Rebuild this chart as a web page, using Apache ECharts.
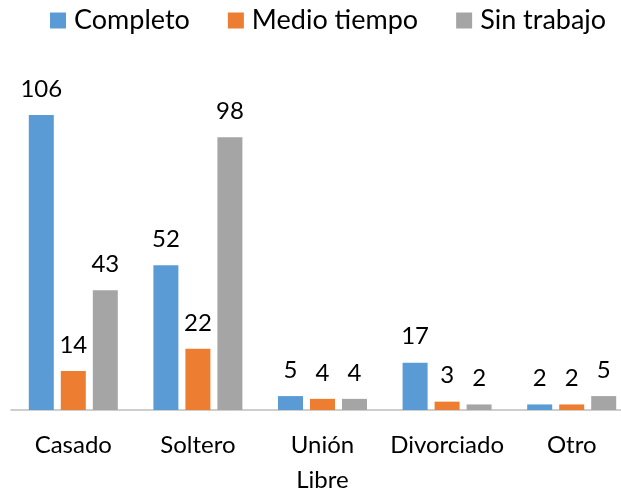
<!DOCTYPE html>
<html>
<head>
<meta charset="utf-8">
<script src="https://cdn.jsdelivr.net/npm/echarts@6/dist/echarts.min.js"></script>
<style>
  html, body { margin: 0; padding: 0; background: #fff; }
  #chart { width: 621px; height: 488px; }
</style>
</head>
<body>
<div id="chart"></div>
<script>
const categories = ['Casado', 'Soltero', 'Unión\nLibre', 'Divorciado', 'Otro'];
const completo = [106, 52, 5, 17, 2];
const medioTiempo = [14, 22, 4, 3, 2];
const sinTrabajo = [43, 98, 4, 2, 5];

const font = 'Lato, "Open Sans", sans-serif';

const chart = echarts.init(document.getElementById('chart'));

function barSeries(name, data, color) {
  return {
    name: name,
    type: 'bar',
    data: data,
    barWidth: 25,
    barGap: '28%',
    itemStyle: { color: color },
    label: {
      show: true,
      position: 'top',
      distance: 14,
      color: '#000',
      fontFamily: font,
      fontSize: 24
    }
  };
}

chart.setOption({
  animation: false,
  textStyle: { fontFamily: font },
  legend: {
    top: 2,
    left: 45,
    itemWidth: 16,
    itemHeight: 16,
    itemGap: 38,
    icon: 'rect',
    textStyle: { fontSize: 27, color: '#000', fontFamily: font, padding: [0, 0, 0, 3] }
  },
  grid: { left: 11, top: 76, width: 623, height: 334, outerBoundsMode: 'none', containLabel: false },
  xAxis: {
    type: 'category',
    data: categories,
    axisTick: { show: false },
    axisLine: { lineStyle: { color: '#bfbfbf', width: 1.5 } },
    axisLabel: {
      color: '#000',
      fontSize: 24,
      fontFamily: font,
      margin: 18,
      lineHeight: 35,
      interval: 0
    }
  },
  yAxis: {
    type: 'value',
    min: 0,
    max: 120,
    show: false
  },
  series: [
    barSeries('Completo', completo, '#5B9BD5'),
    barSeries('Medio tiempo', medioTiempo, '#ED7D31'),
    barSeries('Sin trabajo', sinTrabajo, '#A5A5A5')
  ]
});
</script>
</body>
</html>
